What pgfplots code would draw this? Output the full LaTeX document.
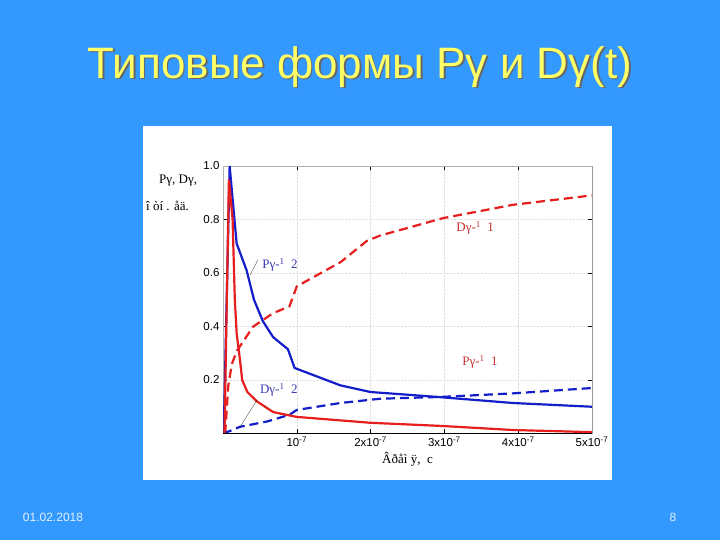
\documentclass[border=0pt]{standalone}
\usepackage{pgfplots}
\pgfplotsset{compat=1.18}
\usepackage{fontspec}
\setmainfont{Liberation Sans}
\newfontfamily\serif{Liberation Serif}
\definecolor{slide}{RGB}{51,153,255}
\definecolor{ttl}{RGB}{255,255,102}
\definecolor{cblue}{RGB}{20,30,200}
\definecolor{cred}{RGB}{230,30,30}
\definecolor{lblue}{RGB}{60,60,180}
\definecolor{lred}{RGB}{200,50,50}

\begin{document}
\begin{tikzpicture}[x=1pt,y=1pt]
\fill[slide] (0,0) rectangle (720,540);
\fill[white] (143,60) rectangle (612,414);
% title with shadow
\node[text=black!60,font=\fontsize{44}{52}\selectfont] at (361.5,471.5) {Типовые формы Pγ и Dγ(t)};
\node[text=ttl,font=\fontsize{44}{52}\selectfont] at (360,473) {Типовые формы Pγ и Dγ(t)};
\node[text=white!85!slide,font=\fontsize{12}{14}\selectfont] at (53,23) {01.02.2018};
\node[text=white!85!slide,font=\fontsize{12}{14}\selectfont] at (673,23) {8};

\begin{axis}[
  at={(223pt,106.5pt)}, anchor=south west,
  scale only axis, width=369pt, height=267.5pt,
  xmin=0, xmax=5, ymin=0, ymax=1,
  xtick={1,2,3,4,5},
  xticklabels={10\textsuperscript{-7},2x10\textsuperscript{-7},3x10\textsuperscript{-7},4x10\textsuperscript{-7},5x10\textsuperscript{-7}},
  ytick={0.2,0.4,0.6,0.8,1.0},
  yticklabels={0.2,0.4,0.6,0.8,1.0},
  tick label style={font=\fontsize{11.5}{13}\selectfont},
  tick style={black, thin}, major tick length=4pt,
  grid=major, grid style={gray!25, densely dotted},
  axis line style={gray!60},
  xlabel={\serif Âðåì ÿ,\ \ c}, xlabel style={font=\fontsize{13}{15}\selectfont, yshift=2pt},
  clip=true,
]
\addplot[cred, line width=2.2pt, dashed, dash pattern=on 9pt off 5pt] coordinates {
(0.03,0) (0.07,0.175) (0.12,0.26) (0.19,0.31) (0.41,0.40) (0.68,0.45) (0.9,0.475)
(1.0,0.55) (1.13,0.57) (1.59,0.64) (1.95,0.72) (2.13,0.74) (2.98,0.805) (3.93,0.855) (5,0.89)};
\addplot[cblue, line width=2.2pt, dashed, dash pattern=on 9pt off 5pt] coordinates {
(0,0) (0.1,0.01) (0.23,0.025) (0.6,0.045) (0.9,0.07) (1.0,0.088) (1.59,0.114)
(2.13,0.13) (2.98,0.137) (3.93,0.15) (5,0.17)};
\addplot[cblue, line width=2.2pt] coordinates {
(0.01,0) (0.09,1.0) (0.185,0.71) (0.32,0.61) (0.42,0.5) (0.54,0.42) (0.68,0.36)
(0.88,0.315) (0.97,0.245) (1.59,0.18) (2.0,0.155) (2.5,0.145) (2.98,0.135) (3.93,0.114) (5,0.1)};
\addplot[cred, line width=2.2pt] coordinates {
(0.02,0) (0.08,0.95) (0.13,0.8) (0.16,0.5) (0.185,0.375) (0.23,0.275) (0.26,0.2)
(0.33,0.155) (0.46,0.12) (0.68,0.08) (1.0,0.062) (2.0,0.04) (2.98,0.028) (3.93,0.013) (5,0.005)};
\draw[black, thin] (rel axis cs:0,0) -- (rel axis cs:1,0) -- (rel axis cs:1,1);
\draw[black, very thin] (axis cs:0.366,0.593) -- (axis cs:0.474,0.649);
\draw[black, very thin] (axis cs:0.23,0.024) -- (axis cs:0.46,0.125);
\node[anchor=west, text=lblue, font=\serif\fontsize{13}{15}\selectfont, inner sep=0pt] at (axis cs:0.53,0.63) {Pγ-\textsuperscript{1}\ \ 2};
\node[anchor=west, text=lblue, font=\serif\fontsize{13}{15}\selectfont, inner sep=0pt] at (axis cs:0.50,0.163) {Dγ-\textsuperscript{1}\ \ 2};
\node[anchor=west, text=lred, font=\serif\fontsize{13}{15}\selectfont, inner sep=0pt] at (axis cs:3.16,0.768) {Dγ-\textsuperscript{1}\ \ 1};
\node[anchor=west, text=lred, font=\serif\fontsize{13}{15}\selectfont, inner sep=0pt] at (axis cs:3.24,0.267) {Pγ-\textsuperscript{1}\ \ 1};
\end{axis}
\node[anchor=west, font=\serif\fontsize{13}{15}\selectfont, inner sep=0pt] at (159,359) {Pγ, Dγ,};
\node[anchor=west, font=\serif\fontsize{13}{15}\selectfont, inner sep=0pt] at (146,334) {î òí . åä.};
\end{tikzpicture}
\end{document}
